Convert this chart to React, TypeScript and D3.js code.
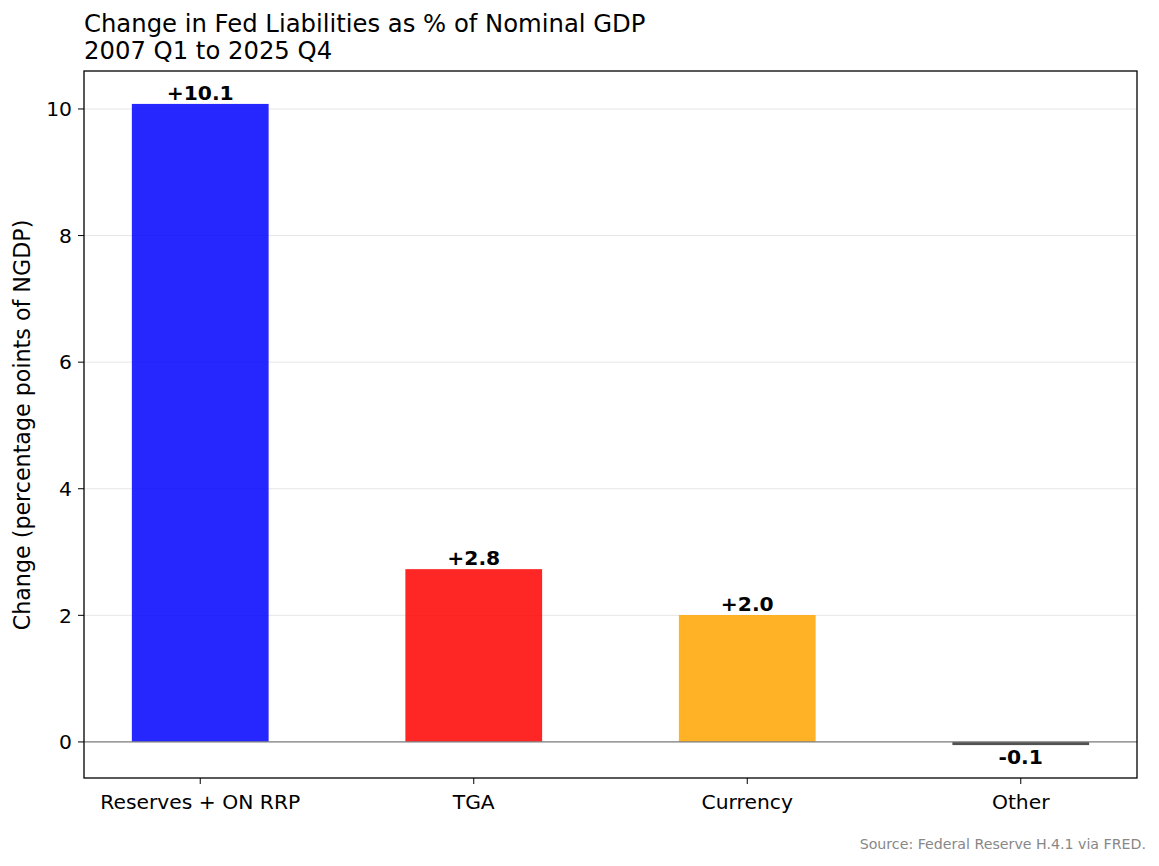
import React from "react";
import * as d3 from "d3";

const categories = ["Reserves + ON RRP", "TGA", "Currency", "Other"];
const values = [10.08, 2.73, 2.005, -0.05];
const valueLabels = ["+10.1", "+2.8", "+2.0", "-0.1"];
const colors = ["#0000ff", "#ff0000", "#ffa500", "#333333"];
const yTicks = [0, 2, 4, 6, 8, 10];

const W = 1159;
const H = 866;
const L = 84, R = 1137, T = 71, B = 778;
const FONT = "DejaVu Sans, sans-serif";

export default function App() {
  const x = d3.scaleLinear().domain([-0.425, 3.425]).range([L, R]);
  const y = d3.scaleLinear().domain([-0.57, 10.6]).range([B, T]);
  const bw = x(0.25) - x(-0.25);
  return (
    <svg width={W} height={H} style={{ position: "absolute", left: 0, top: 0 }} fontFamily={FONT}>
      <rect width={W} height={H} fill="#fff" />
      <text x={L} y={32} fontSize={24.3}>Change in Fed Liabilities as % of Nominal GDP</text>
      <text x={L} y={59} fontSize={24.3}>2007 Q1 to 2025 Q4</text>
      {yTicks.map((t) => (
        <g key={t}>
          <line x1={L} x2={R} y1={y(t)} y2={y(t)} stroke="#e6e6e6" strokeWidth={1} />
          <line x1={L - 6} x2={L} y1={y(t)} y2={y(t)} stroke="#000" strokeWidth={1} />
          <text x={L - 12} y={y(t)} dy="0.36em" textAnchor="end" fontSize={20.3}>{t}</text>
        </g>
      ))}
      {categories.map((c, i) => {
        const v = values[i];
        const y0 = y(0), y1 = y(v);
        return (
          <g key={c}>
            <rect x={x(i) - bw / 2} width={bw} y={Math.min(y0, y1)} height={Math.max(Math.abs(y1 - y0), 1)} fill={colors[i]} fillOpacity={0.85} />
            <text x={x(i)} y={v >= 0 ? y1 - 4 : y1 + 19} textAnchor="middle" fontSize={20.3} fontWeight="bold">{valueLabels[i]}</text>
            <line x1={x(i)} x2={x(i)} y1={B} y2={B + 6} stroke="#000" />
            <text x={x(i)} y={B + 31} textAnchor="middle" fontSize={20.3}>{c}</text>
          </g>
        );
      })}
      <line x1={L} x2={R} y1={y(0)} y2={y(0)} stroke="#808080" strokeWidth={1.2} />
      <rect x={L} y={T} width={R - L} height={B - T} fill="none" stroke="#000" strokeWidth={1.3} />
      <text transform={`translate(30,425) rotate(-90)`} textAnchor="middle" fontSize={22.2}>Change (percentage points of NGDP)</text>
      <text x={1146} y={849} textAnchor="end" fontSize={14.2} fill="#888">Source: Federal Reserve H.4.1 via FRED.</text>
    </svg>
  );
}
